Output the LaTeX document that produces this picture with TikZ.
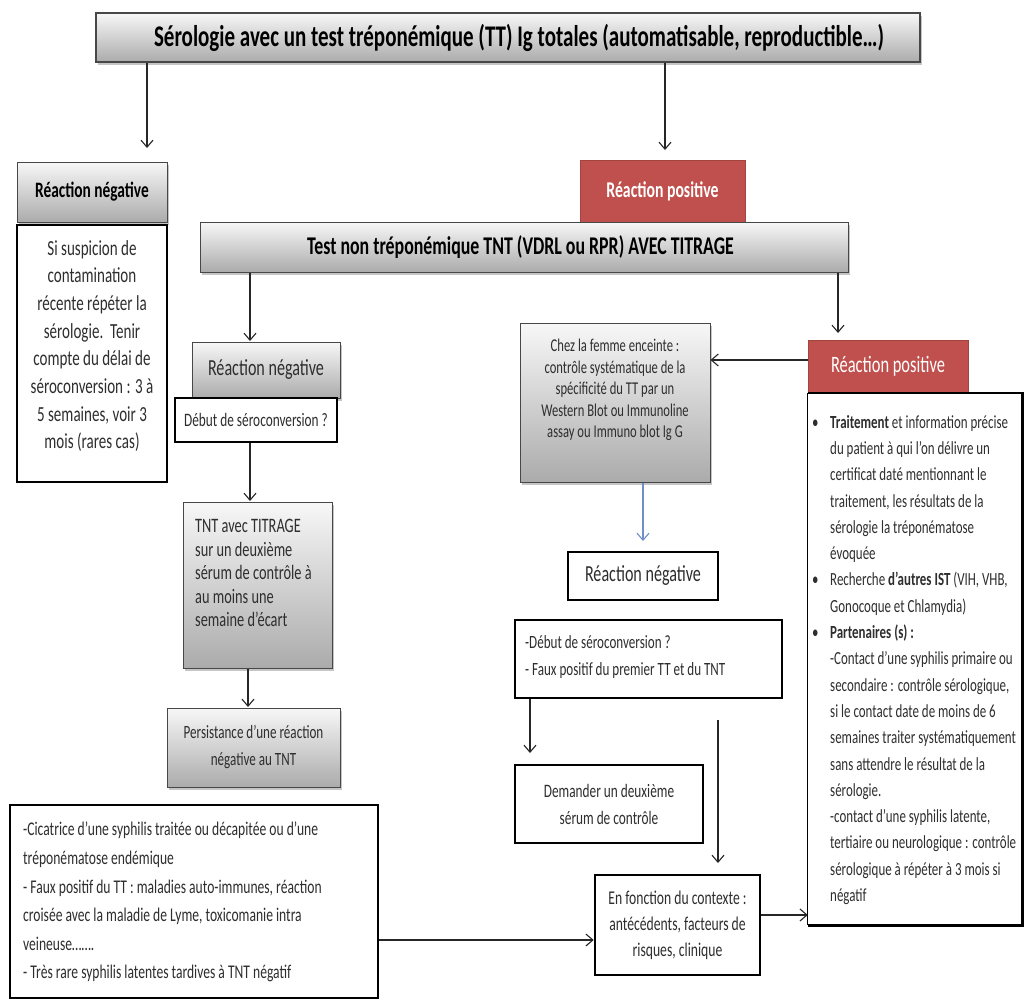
\documentclass[tikz,border=0pt]{standalone}
\usepackage{fontspec}
\setmainfont{Carlito}[FakeStretch=0.7]
\usetikzlibrary{arrows.meta,shadows}
\definecolor{redfill}{HTML}{C0504D}
\definecolor{bluearr}{HTML}{6F8FC8}
\definecolor{txt}{HTML}{2E2E2E}
\newcommand\myfs[2]{\fontsize{#1}{#2}\selectfont}
\begin{document}
\begin{tikzpicture}[x=1pt,y=-1pt,
  every node/.style={inner sep=0pt, text=txt},
  graybox/.style={draw=black!72, line width=1pt, top color=black!3, bottom color=black!33,
    drop shadow={shadow xshift=2pt,shadow yshift=-2.5pt,fill=black!45}},
  frame/.style={draw=black, line width=2.6pt, fill=white},
  redbox/.style={fill=redfill, draw=redfill!85!black, line width=0.6pt, text=white},
  arr/.style={draw=black!85, line width=1.1pt, -{Straight Barb[length=7pt,width=12pt,line width=1.1pt]}},
  barr/.style={draw=bluearr, line width=1.1pt, -{Straight Barb[length=7pt,width=12pt,line width=1.1pt]}}
]
\fill[white] (0,0) rectangle (1026,1001);
\useasboundingbox (0,0) rectangle (1026,1001);

% top
\node[graybox, line width=1.4pt, minimum width=824pt, minimum height=49pt] (title) at (508,37.5) {};
\node[font=\myfs{30}{34}\bfseries, text=black] (titletxt) at (519,37.5)
  {Sérologie avec un test tréponémique (TT) Ig totales (automatisable, reproductible…)};

% left column
\node[graybox, minimum width=150pt, minimum height=60pt, font=\myfs{22}{26}\bfseries, text=black] (negA) at (92,192) {Réaction négative};
\node[frame, minimum width=150pt, minimum height=257pt] (infoA) at (92,353.5) {};
\node[align=center, font=\myfs{21.5}{27.7}] (infoAtxt) at (92,346)
  {Si suspicion de\\contamination\\récente répéter la\\sérologie.\ \ Tenir\\compte du délai de\\séroconversion : 3 à\\5 semaines, voir 3\\mois (rares cas)};

% red top + TNT
\node[redbox, minimum width=165pt, minimum height=62pt, font=\myfs{22.5}{26}\bfseries] (posA) at (662.5,191) {Réaction positive};
\node[graybox, minimum width=648pt, minimum height=50pt] (tnt) at (524,247) {};
\node[font=\myfs{25.5}{29}\bfseries, text=black] (tnttxt) at (520.5,247)
  {Test non tréponémique TNT (VDRL ou RPR) AVEC TITRAGE};

% middle-left column
\node[graybox, minimum width=148pt, minimum height=56pt, font=\myfs{23}{27}] (negB) at (266,370) {Réaction négative};
\node[frame, minimum width=162pt, minimum height=44pt, font=\myfs{19}{22}] (sero1) at (256,420) {Début de séroconversion ?};
\node[graybox, minimum width=149pt, minimum height=166pt] (titr) at (257.5,585) {};
\node[anchor=north west, align=left, font=\myfs{20.5}{23.5}] (titrtxt) at (195,519)
  {TNT avec TITRAGE\\sur un deuxième\\sérum de contrôle à\\au moins une\\semaine d’écart};
\node[graybox, minimum width=173pt, minimum height=79pt, align=center, font=\myfs{18.7}{27}] (pers) at (253.5,747.5)
  {Persistance d’une réaction\\négative au TNT};
\node[frame, minimum width=368pt, minimum height=193pt] (cause) at (194,901.5) {};
\node[anchor=north west, align=left, font=\myfs{19.4}{28.6}] (causetxt) at (23,822)
  {-Cicatrice d’une syphilis traitée ou décapitée ou d’une\\tréponématose endémique\\- Faux positif du TT : maladies auto-immunes, réaction\\croisée avec la maladie de Lyme, toxicomanie intra\\veineuse…….\\- Très rare syphilis latentes tardives à TNT négatif};

% center column
\node[graybox, minimum width=190pt, minimum height=159pt] (chez) at (615,402.5) {};
\node[align=center, font=\myfs{18}{21.5}] (cheztxt) at (615,390)
  {Chez la femme enceinte :\\contrôle systématique de la\\spécificité du TT par un\\Western Blot ou Immunoline\\assay ou Immuno blot Ig G};
\node[frame, minimum width=150pt, minimum height=48pt, font=\myfs{23}{27}] (negC) at (643,576) {Réaction négative};
\node[frame, minimum width=267pt, minimum height=78pt] (sero2) at (648.5,659) {};
\node[anchor=north west, align=left, font=\myfs{18.7}{27}] (sero2txt) at (525,635)
  {-Début de séroconversion ?\\- Faux positif du premier TT et du TNT};
\node[frame, minimum width=188pt, minimum height=78pt, align=center, font=\myfs{19}{27}] (dem) at (609,804)
  {Demander un deuxième\\sérum de contrôle};
\node[frame, minimum width=165pt, minimum height=100pt, align=center, font=\myfs{19.5}{26}] (ctx) at (677.5,925)
  {En fonction du contexte :\\antécédents, facteurs de\\risques, clinique};

% right column
\node[redbox, minimum width=160pt, minimum height=53pt, font=\myfs{23.5}{26}] (posB) at (888,366.5) {Réaction positive};
\node[fill=white, minimum width=214pt, minimum height=532pt] (mgmt) at (915,659) {};
\draw[line width=2.6pt] (mgmt.north west) -- (mgmt.north east) -- (mgmt.south east) -- (mgmt.south west);
\draw[line width=1.2pt] (mgmt.south west) -- (mgmt.north west);
\node[anchor=north west, align=left, font=\myfs{18.5}{26.3}] (mgmttxt) at (812,415)
  {\makebox[18pt][l]{•}\textbf{Traitement} et information précise\\
   \hspace*{18pt}du patient à qui l’on délivre un\\
   \hspace*{18pt}certificat daté mentionnant le\\
   \hspace*{18pt}traitement, les résultats de la\\
   \hspace*{18pt}sérologie la tréponématose\\
   \hspace*{18pt}évoquée\\
   \makebox[18pt][l]{•}Recherche \textbf{d’autres IST} (VIH, VHB,\\
   \hspace*{18pt}Gonocoque et Chlamydia)\\
   \makebox[18pt][l]{•}\textbf{Partenaires (s) :}\\
   \hspace*{18pt}-Contact d’une syphilis primaire ou\\
   \hspace*{18pt}secondaire : contrôle sérologique,\\
   \hspace*{18pt}si le contact date de moins de 6\\
   \hspace*{18pt}semaines traiter systématiquement\\
   \hspace*{18pt}sans attendre le résultat de la\\
   \hspace*{18pt}sérologie.\\
   \hspace*{18pt}-contact d’une syphilis latente,\\
   \hspace*{18pt}tertiaire ou neurologique : contrôle\\
   \hspace*{18pt}sérologique à répéter à 3 mois si\\
   \hspace*{18pt}négatif};

% connectors
\coordinate (tipA) at (147,148);
\coordinate (tipB) at (665,150);
\coordinate (tipC) at (250,341);
\coordinate (tipD) at (838,333);
\coordinate (tipE) at (250,501);
\coordinate (tipF) at (248,707);
\coordinate (yH) at (0,360);
\coordinate (tipG) at (643,541);
\coordinate (tipI) at (530,753);
\coordinate (vstart) at (718,720);
\coordinate (tipJ) at (718,863);
\coordinate (yK) at (0,940);
\coordinate (yL) at (0,915);

\draw[arr] (title.south -| tipA) -- (tipA);
\draw[arr] (title.south -| tipB) -- (tipB);
\draw[arr] (tnt.south -| tipC) -- (tipC);
\draw[arr] (tnt.south -| tipD) -- (tipD);
\draw[arr] (sero1.south -| tipE) -- (tipE);
\draw[arr] (titr.south -| tipF) -- (tipF);
\draw[arr] (posB.west |- yH) -- (chez.east |- yH);
\draw[barr] (chez.south -| tipG) -- (tipG);
\draw[arr] (sero2.south -| tipI) -- (tipI);
\draw[arr] (vstart) -- (tipJ);
\draw[arr] (cause.east |- yK) -- (ctx.west |- yK);
\draw[arr] (ctx.east |- yL) -- (mgmt.west |- yL);
\end{tikzpicture}
\end{document}
